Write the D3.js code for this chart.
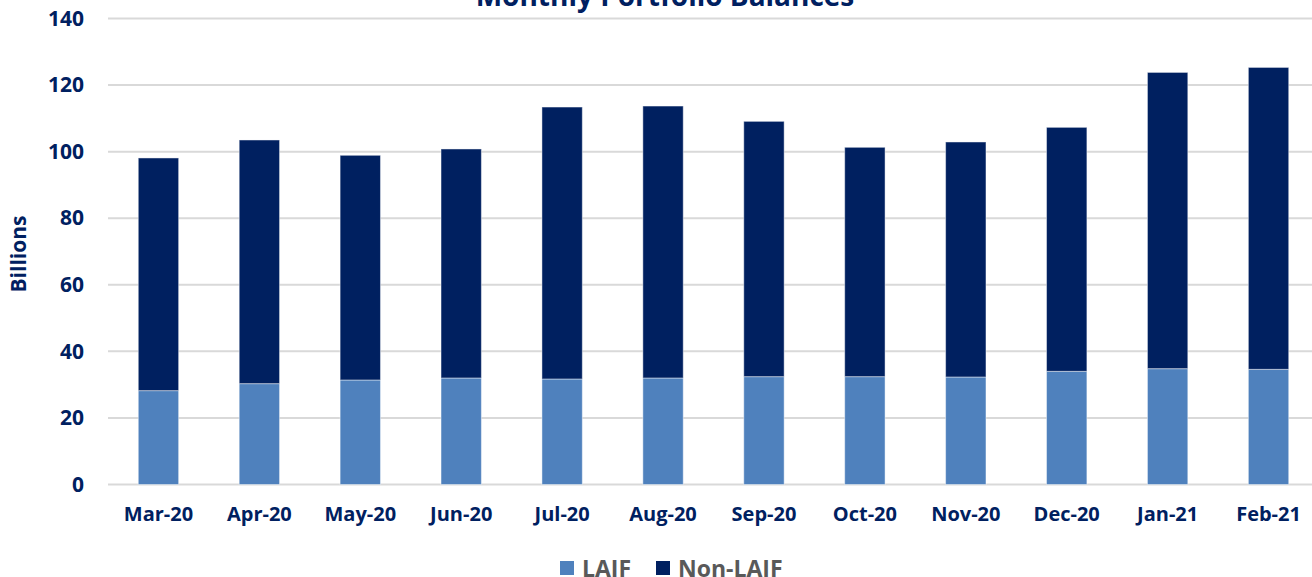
<!DOCTYPE html>
<html>
<head>
<meta charset="utf-8">
<script src="https://cdn.jsdelivr.net/npm/d3@7"></script>
<style>
  body { margin: 0; background: #fff; }
  svg text { font-family: "Open Sans", "Liberation Sans", sans-serif; font-weight: bold; }
</style>
</head>
<body>
<div id="root"></div>
<script>
const SVG_WIDTH = 1312;
const SVG_HEIGHT = 577;

const months = ['Mar-20', 'Apr-20', 'May-20', 'Jun-20', 'Jul-20', 'Aug-20', 'Sep-20', 'Oct-20', 'Nov-20', 'Dec-20', 'Jan-21', 'Feb-21'];
const laif = [28.2, 30.3, 31.4, 32.0, 31.7, 32.0, 32.4, 32.4, 32.3, 34.0, 34.8, 34.6];
const totals = [98.1, 103.5, 98.9, 100.8, 113.4, 113.7, 109.1, 101.3, 102.9, 107.3, 123.8, 125.3];
const nonLaif = totals.map((t, i) => +(t - laif[i]).toFixed(1));
const yTicks = [0, 20, 40, 60, 80, 100, 120, 140];
const seriesNames = ['LAIF', 'Non-LAIF'];
const colors = ['#4F81BD', '#002060'];

const svg = d3.select('#root')
  .append('svg')
  .attr('width', SVG_WIDTH)
  .attr('height', SVG_HEIGHT);

const x = d3.scaleBand().domain(months).range([108, 1319]).paddingInner(0.6).paddingOuter(0.3);
const y = d3.scaleLinear().domain([0, 140]).range([484.5, 18.5]);

// 网格线
svg.append('g')
  .selectAll('line')
  .data(yTicks)
  .join('line')
  .attr('x1', 108)
  .attr('x2', SVG_WIDTH)
  .attr('y1', (d) => y(d))
  .attr('y2', (d) => y(d))
  .attr('stroke', '#D9D9D9')
  .attr('stroke-width', 2);

// 堆叠
const rows = months.map((m, i) => ({ month: m, LAIF: laif[i], 'Non-LAIF': nonLaif[i] }));
const stacked = d3.stack().keys(seriesNames)(rows);

svg.append('g')
  .selectAll('g')
  .data(stacked)
  .join('g')
  .attr('fill', (d, i) => colors[i])
  .selectAll('rect')
  .data((d) => d)
  .join('rect')
  .attr('x', (d) => x(d.data.month))
  .attr('width', x.bandwidth())
  .attr('y', (d) => y(d[1]))
  .attr('height', (d) => y(d[0]) - y(d[1]))
  .attr('stroke', 'rgba(255,255,255,0.45)')
  .attr('stroke-width', 1);

// y轴
const yAxis = svg.append('g')
  .attr('transform', 'translate(108,0)')
  .call(d3.axisLeft(y).tickValues(yTicks).tickSize(0).tickPadding(24));
yAxis.select('.domain').remove();
yAxis.selectAll('text')
  .attr('fill', '#002060')
  .style('font-size', '21px');

// x轴
const xAxis = svg.append('g')
  .attr('transform', 'translate(0,484.5)')
  .call(d3.axisBottom(x).tickSize(0).tickPadding(22));
xAxis.select('.domain').remove();
xAxis.selectAll('text')
  .attr('fill', '#002060')
  .style('font-size', '20px');

// 标题
svg.append('text')
  .attr('x', 665)
  .attr('y', 6)
  .attr('text-anchor', 'middle')
  .attr('fill', '#002060')
  .style('font-size', '28px')
  .text('Monthly Portfolio Balances');

svg.append('text')
  .attr('transform', 'translate(26,254) rotate(-90)')
  .attr('text-anchor', 'middle')
  .attr('fill', '#002060')
  .style('font-size', '21px')
  .text('Billions');

// 图例
const legendX = [560, 656];
const legend = svg.append('g')
  .selectAll('g')
  .data(seriesNames)
  .join('g')
  .attr('transform', (d, i) => `translate(${legendX[i]},561)`);
legend.append('rect')
  .attr('width', 14)
  .attr('height', 14)
  .attr('fill', (d, i) => colors[i]);
legend.append('text')
  .attr('x', 22)
  .attr('y', 16)
  .attr('fill', '#595959')
  .style('font-size', '23px')
  .text((d) => d);
</script>
</body>
</html>
